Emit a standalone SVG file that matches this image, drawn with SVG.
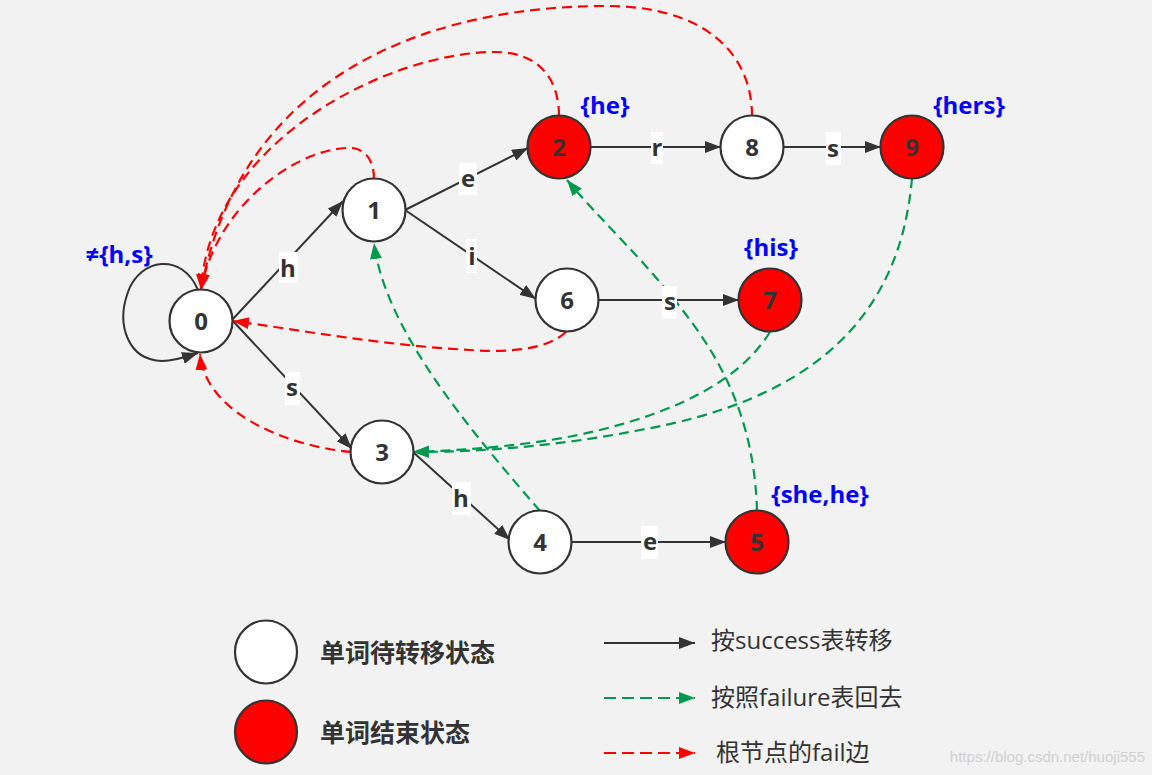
<svg xmlns="http://www.w3.org/2000/svg" width="1152" height="775" viewBox="0 0 1152 775">
<defs>
<marker id="aD" markerUnits="userSpaceOnUse" markerWidth="16" markerHeight="12" refX="16" refY="6" orient="auto"><path d="M0,0 L16,6 L0,12 z" fill="#333"/></marker>
<marker id="aR" markerUnits="userSpaceOnUse" markerWidth="16" markerHeight="12" refX="16" refY="6" orient="auto"><path d="M0,0 L16,6 L0,12 z" fill="#FF0000"/></marker>
<marker id="aG" markerUnits="userSpaceOnUse" markerWidth="16" markerHeight="12" refX="16" refY="6" orient="auto"><path d="M0,0 L16,6 L0,12 z" fill="#00994D"/></marker>
</defs>
<style>
.n{fill:#fff;stroke:#333;stroke-width:2.2}
.f{fill:#FF0000;stroke:#333;stroke-width:2.2}
.t{font-family:"Open Sans","Noto Sans CJK SC",sans-serif;font-weight:bold;font-size:24px;fill:#333;text-anchor:middle}
.s{fill:none;stroke:#333;stroke-width:2;marker-end:url(#aD)}
.r{fill:none;stroke:#FF0000;stroke-width:2.2;stroke-dasharray:10 6;marker-end:url(#aR)}
.g{fill:none;stroke:#00994D;stroke-width:2.2;stroke-dasharray:10 6;marker-end:url(#aG)}
.lb{fill:#fff}
.b{font-family:"Open Sans","Noto Sans CJK SC",sans-serif;font-weight:bold;font-size:24px;fill:#0000FF;text-anchor:middle}
.lg{font-family:"Noto Sans CJK SC",sans-serif;font-weight:bold;font-size:25px;fill:#333}
.lr{font-family:"Open Sans","Noto Sans CJK SC",sans-serif;font-size:24px;fill:#333}
</style>
<rect width="1152" height="775" fill="#F2F2F2"/>
<g id="connectors">
<path class="s" d="M232 320 L343 201"/>
<path class="s" d="M232 320 L352 449"/>
<path class="s" d="M405 210 L528 148"/>
<path class="s" d="M405 210 L536 299"/>
<path class="s" d="M590 147 L721 147"/>
<path class="s" d="M783 147 L881 147"/>
<path class="s" d="M598 300 L739 300"/>
<path class="s" d="M413 452 L510 540"/>
<path class="s" d="M571 542 L726 542"/>
<path class="s" d="M198 290 C182 252,140 258,128 292 C116 325,128 360,162 361 C175 361,186 357,198 353"/>
<path class="r" d="M374 179 C374 155,360 146,345 148 C290 152,215 210,201 290"/>
<path class="r" d="M559 116 C559 80,540 52,495 52 C390 52,210 140,201 290"/>
<path class="r" d="M752 116 C752 50,700 6,607 6 C420 6,240 80,201 290"/>
<path class="r" d="M566 332 C545 352,500 352,470 350 C380 345,300 330,233 321"/>
<path class="r" d="M351 452 C280 445,205 410,200 354"/>
<path class="g" d="M540 511 C470 430,385 330,374 243"/>
<path class="g" d="M757 511 C755 440,735 380,690 320 C650 265,600 220,567 180"/>
<path class="g" d="M770 332 C740 380,680 410,600 430 C540 445,470 450,413 452"/>
<path class="g" d="M912 178 C900 320,810 400,640 430 C560 446,480 452,413 452"/>
<rect class="lb" x="279" y="252" width="19" height="31"/><text class="t" x="288" y="277">h</text>
<rect class="lb" x="285" y="372" width="15" height="33"/><text class="t" x="292" y="396">s</text>
<rect class="lb" x="459" y="163" width="18" height="32"/><text class="t" x="468" y="187">e</text>
<rect class="lb" x="466" y="239" width="11" height="34"/><text class="t" x="472" y="265">i</text>
<rect class="lb" x="651" y="132" width="12" height="32"/><text class="t" x="657" y="156">r</text>
<rect class="lb" x="826" y="132" width="15" height="33"/><text class="t" x="833" y="157">s</text>
<rect class="lb" x="662" y="286" width="15" height="33"/><text class="t" x="670" y="310">s</text>
<rect class="lb" x="452" y="482" width="19" height="33"/><text class="t" x="461" y="507">h</text>
<rect class="lb" x="641" y="526" width="17" height="33"/><text class="t" x="650" y="550">e</text>
</g>
<g id="n0"><circle class="n" cx="201" cy="321" r="31.5"/><text class="t" x="201" y="330">0</text></g>
<g id="n1"><circle class="n" cx="374" cy="210" r="31.5"/><text class="t" x="374" y="219">1</text></g>
<g id="n2"><circle class="f" cx="559" cy="147" r="31.5"/><text class="t" x="559" y="156">2</text></g>
<g id="n8"><circle class="n" cx="752" cy="147" r="31.5"/><text class="t" x="752" y="156">8</text></g>
<g id="n9"><circle class="f" cx="912" cy="147" r="31.5"/><text class="t" x="912" y="156">9</text></g>
<g id="n6"><circle class="n" cx="567" cy="300" r="31.5"/><text class="t" x="567" y="309">6</text></g>
<g id="n7"><circle class="f" cx="770" cy="300" r="31.5"/><text class="t" x="770" y="309">7</text></g>
<g id="n3"><circle class="n" cx="382" cy="452" r="31.5"/><text class="t" x="382" y="461">3</text></g>
<g id="n4"><circle class="n" cx="540" cy="542" r="31.5"/><text class="t" x="540" y="551">4</text></g>
<g id="n5"><circle class="f" cx="757" cy="542" r="31.5"/><text class="t" x="757" y="551">5</text></g>
<g id="labels">
<text class="b" x="605" y="114">{he}</text>
<text class="b" x="969" y="114">{hers}</text>
<text class="b" x="771" y="256">{his}</text>
<text class="b" x="820" y="503">{she,he}</text>
<text class="b" x="119" y="263">≠{h,s}</text>
</g>
<g id="legend">
<ellipse class="n" cx="266" cy="652" rx="31" ry="31.5"/>
<ellipse class="f" cx="266" cy="732" rx="31" ry="31.5"/>
<text class="lg" x="320" y="662">单词待转移状态</text>
<text class="lg" x="320" y="742">单词结束状态</text>
<path class="s" d="M604 643 L695 643"/>
<path class="g" d="M604 698 L695 698" style="stroke-dasharray:12 6"/>
<path class="r" d="M604 753 L695 753" style="stroke-dasharray:12 6"/>
<text class="lr" x="711" y="649">按success表转移</text>
<text class="lr" x="711" y="706">按照failure表回去</text>
<text class="lr" x="716" y="761">根节点的fail边</text>
</g>
<text x="1145" y="762" text-anchor="end" font-family="Liberation Sans, sans-serif" font-size="15" fill="#D0D0D0">https://blog.csdn.net/huoji555</text>
</svg>
